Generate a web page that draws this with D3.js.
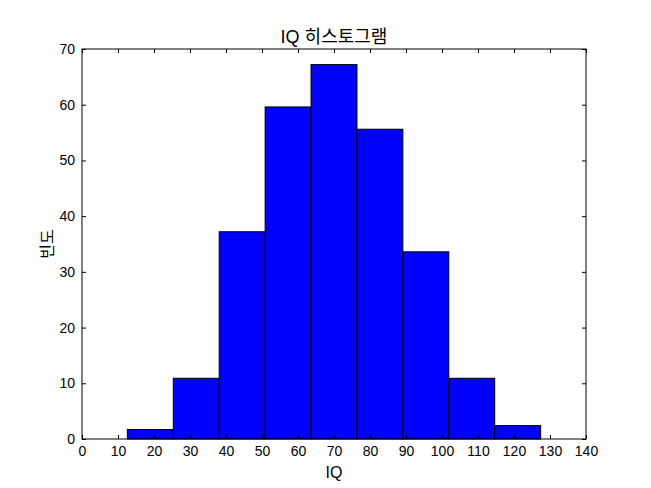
<!DOCTYPE html>
<html><head><meta charset="utf-8">
<script src="https://cdn.jsdelivr.net/npm/d3@7"></script>
<style>body{margin:0;background:#fff}</style>
</head><body>
<script>
const binEdges = [12.6, 25.36, 38.11, 50.87, 63.62, 76.38, 89.13, 101.89, 114.64, 127.4];
const counts = [1.7, 10.9, 37.2, 59.6, 67.2, 55.6, 33.6, 10.9, 2.4];
const xTicks = [0,10,20,30,40,50,60,70,80,90,100,110,120,130,140];
const yTicks = [0,10,20,30,40,50,60,70];
const titleText = "IQ 히스토그램";
const xLabel = "IQ";
const yLabel = "빈도";

const W = 651, H = 488;
const m = {l:82, r:65, t:49, b:49};
const svg = d3.select("body").append("svg").attr("width",W).attr("height",H);
const x = d3.scaleLinear().domain([0,140]).range([m.l, W-m.r]);
const y = d3.scaleLinear().domain([0,70]).range([H-m.b, m.t]);
const font = "'Liberation Sans', Arial, sans-serif";
const kfont = "'Liberation Sans', 'Noto Sans CJK KR', sans-serif";

const bars = counts.map((c,i)=>({x0:binEdges[i], x1:binEdges[i+1], c}));
svg.append("g").selectAll("rect").data(bars).join("rect")
  .attr("x", d=>x(d.x0)).attr("width", d=>x(d.x1)-x(d.x0))
  .attr("y", d=>y(d.c)).attr("height", d=>y(0)-y(d.c))
  .attr("fill","#0000ff").attr("stroke","#000").attr("stroke-width",1);

const gx = svg.append("g").attr("transform",`translate(0,${y(0)})`)
  .call(d3.axisBottom(x).tickValues(xTicks).tickSize(-4).tickPadding(7).tickFormat(d3.format("d")));
const gxt = svg.append("g").attr("transform",`translate(0,${y(70)})`)
  .call(d3.axisTop(x).tickValues(xTicks).tickSize(-4).tickFormat(""));
const gy = svg.append("g").attr("transform",`translate(${x(0)},0)`)
  .call(d3.axisLeft(y).tickValues(yTicks).tickSize(-4).tickPadding(7).tickFormat(d3.format("d")));
const gyr = svg.append("g").attr("transform",`translate(${x(140)},0)`)
  .call(d3.axisRight(y).tickValues(yTicks).tickSize(-4).tickFormat(""));
[gx,gxt,gy,gyr].forEach(g=>{
  g.select(".domain").remove();
  g.selectAll("line").attr("stroke","#000");
  g.selectAll("text").attr("font-family",font).attr("font-size",14).attr("fill","#000");
});
svg.append("rect").attr("x",x(0)).attr("y",y(70)).attr("width",x(140)-x(0)).attr("height",y(0)-y(70))
  .attr("fill","none").attr("stroke","#000").attr("stroke-width",1);

svg.append("text").attr("x",(x(0)+x(140))/2).attr("y",43).attr("text-anchor","middle")
  .attr("font-family",kfont).attr("font-size",18).text(titleText);
svg.append("text").attr("x",(x(0)+x(140))/2).attr("y",478).attr("text-anchor","middle")
  .attr("font-family",kfont).attr("font-size",16).text(xLabel);
svg.append("text").attr("transform",`translate(53,${(y(0)+y(70))/2}) rotate(-90)`).attr("text-anchor","middle")
  .attr("font-family",kfont).attr("font-size",16).text(yLabel);
</script>
</body></html>
